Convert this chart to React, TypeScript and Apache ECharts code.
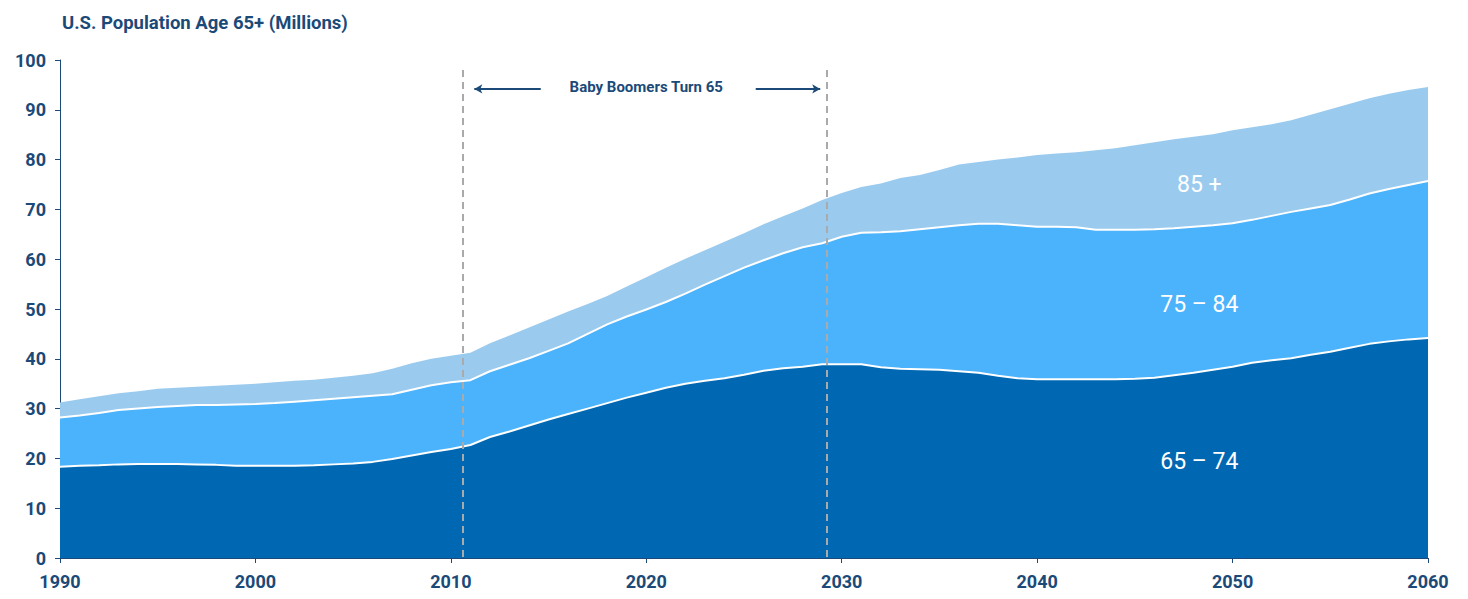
import React, { useEffect, useRef } from "react";
import * as echarts from "echarts";

const years: string[] = [];
for (let y = 1990; y <= 2060; y++) years.push(String(y));

const age65to74 = [
  18.3, 18.5, 18.6, 18.8, 18.9, 18.9, 18.9, 18.8, 18.7, 18.5,
  18.5, 18.5, 18.5, 18.6, 18.8, 19.0, 19.3, 19.9, 20.6, 21.3,
  21.9, 22.7, 24.3, 25.4, 26.6, 27.8, 28.9, 30.0, 31.1, 32.2,
  33.2, 34.2, 35.0, 35.6, 36.1, 36.8, 37.6, 38.1, 38.4, 38.9,
  38.9, 38.9, 38.3, 38.0, 37.9, 37.8, 37.5, 37.2, 36.6, 36.1,
  35.9, 35.9, 35.9, 35.9, 35.9, 36.0, 36.2, 36.7, 37.2, 37.8,
  38.4, 39.2, 39.7, 40.1, 40.8, 41.4, 42.2, 43.0, 43.5, 43.9,
  44.2,
];
const age75to84 = [
  9.9, 10.1, 10.5, 10.9, 11.1, 11.4, 11.6, 11.9, 12.0, 12.3,
  12.4, 12.6, 12.9, 13.1, 13.2, 13.3, 13.3, 13.0, 13.2, 13.4,
  13.4, 13.0, 13.2, 13.4, 13.5, 13.8, 14.2, 15.0, 15.8, 16.3,
  16.7, 17.2, 18.1, 19.3, 20.5, 21.5, 22.2, 23.1, 24.0, 24.3,
  25.6, 26.4, 27.1, 27.6, 28.1, 28.6, 29.3, 29.9, 30.5, 30.7,
  30.6, 30.6, 30.5, 30.0, 30.0, 29.9, 29.8, 29.5, 29.3, 29.0,
  28.8, 28.7, 29.0, 29.4, 29.4, 29.5, 29.8, 30.2, 30.6, 31.0,
  31.5,
];
const age85plus = [
  3.0, 3.3, 3.4, 3.4, 3.5, 3.7, 3.7, 3.7, 3.9, 4.0,
  4.1, 4.2, 4.2, 4.1, 4.2, 4.3, 4.5, 5.1, 5.3, 5.3,
  5.3, 5.5, 5.6, 5.9, 6.2, 6.3, 6.4, 6.0, 5.7, 6.0,
  6.5, 6.9, 7.0, 6.9, 6.9, 6.9, 7.2, 7.4, 7.8, 8.7,
  8.8, 9.2, 9.8, 10.7, 10.9, 11.5, 12.2, 12.4, 12.9, 13.6,
  14.4, 14.7, 15.1, 16.0, 16.4, 17.0, 17.5, 17.9, 18.1, 18.3,
  18.7, 18.6, 18.4, 18.4, 18.8, 19.2, 19.2, 19.1, 19.1, 19.1,
  18.9,
];

const boomerStart = 2010.6;
const boomerEnd = 2029.25;

const FONT = 'Roboto, "Noto Sans", sans-serif';
const NAVY = "#1b4a78";

export default function App() {
  const ref = useRef<HTMLDivElement>(null);
  useEffect(() => {
    document.body.style.margin = "0";
    if (!ref.current) return;
    const chart = echarts.init(ref.current, null, { renderer: "svg" });
    const areaSeries = (name: string, data: number[], color: string, extra: any = {}) => ({
      name,
      type: "line",
      stack: "pop",
      data,
      symbol: "none",
      lineStyle: { color: "#ffffff", width: 2 },
      areaStyle: { color, opacity: 1 },
      ...extra,
    });
    const lbl = (text: string, x: number, y: number) => ({
      coord: [x, y],
      label: { show: true, formatter: text, color: "#fff", fontFamily: FONT, fontSize: 23 },
    });
    chart.setOption({
      animation: false,
      textStyle: { fontFamily: FONT },
      title: {
        text: "U.S. Population Age 65+ (Millions)",
        left: 57,
        top: 8,
        textStyle: { fontFamily: FONT, fontSize: 18.5, fontWeight: "bold", color: NAVY },
      },
      grid: { left: 60, right: 40, top: 60, bottom: 41 },
      xAxis: [
        {
          type: "category",
          data: years,
          boundaryGap: false,
          axisLine: { show: true, lineStyle: { color: NAVY, width: 1 } },
          axisTick: { show: true, length: 5, interval: 9, lineStyle: { color: NAVY } },
          axisLabel: {
            interval: 9,
            fontFamily: FONT,
            fontSize: 18,
            fontWeight: "bold",
            color: NAVY,
            margin: 14,
          },
          splitLine: { show: false },
        },
        {
          type: "value",
          min: 1990,
          max: 2060,
          show: false,
        },
      ],
      yAxis: {
        type: "value",
        min: 0,
        max: 100,
        interval: 10,
        axisLine: { show: true, lineStyle: { color: NAVY, width: 1 } },
        axisTick: { show: true, length: 5, lineStyle: { color: NAVY } },
        axisLabel: {
          fontFamily: FONT,
          fontSize: 18,
          fontWeight: "bold",
          color: NAVY,
          margin: 14,
        },
        splitLine: { show: false },
      },
      series: [
        areaSeries("65 – 74", age65to74, "#0068b2"),
        areaSeries("75 – 84", age75to84, "#4bb2fc"),
        areaSeries("85 +", age85plus, "#9acbef", { lineStyle: { width: 0, color: "#9acbef" } }),
        {
          name: "annotations",
          type: "line",
          xAxisIndex: 1,
          data: [],
          z: 5,
          markPoint: {
            symbol: "circle",
            symbolSize: 0,
            silent: true,
            data: [
              lbl("65 – 74", 2048.3, 19.3),
              lbl("75 – 84", 2048.3, 51),
              lbl("85 +", 2048.3, 74.9),
              {
                coord: [2020, 94.5],
                label: {
                  show: true,
                  formatter: "Baby Boomers Turn 65",
                  color: NAVY,
                  fontFamily: FONT,
                  fontSize: 15,
                  fontWeight: "bold",
                },
              },
            ],
          },
          markLine: {
            silent: true,
            animation: false,
            label: { show: false },
            data: [
              [
                { coord: [boomerStart, 98], symbol: "none", lineStyle: { color: "#aaaaaa", type: [7, 5], width: 2 } },
                { coord: [boomerStart, 0], symbol: "none" },
              ],
              [
                { coord: [boomerEnd, 98], symbol: "none", lineStyle: { color: "#aaaaaa", type: [7, 5], width: 2 } },
                { coord: [boomerEnd, 0], symbol: "none" },
              ],
              [
                { coord: [2014.6, 94.2], symbol: "none", lineStyle: { color: NAVY, type: "solid", width: 2 } },
                { coord: [2011.2, 94.2], symbol: "arrow", symbolSize: [7, 8] },
              ],
              [
                { coord: [2025.6, 94.2], symbol: "none", lineStyle: { color: NAVY, type: "solid", width: 2 } },
                { coord: [2028.9, 94.2], symbol: "arrow", symbolSize: [7, 8] },
              ],
            ],
          },
        },
      ],
    });
    return () => chart.dispose();
  }, []);
  return <div ref={ref} style={{ width: 1468, height: 599 }} />;
}
